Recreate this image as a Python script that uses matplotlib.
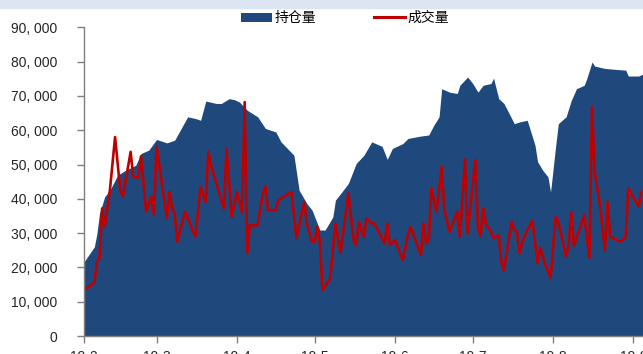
import pandas as pd
import matplotlib.pyplot as plt
import matplotlib.dates as mdates
from matplotlib.patches import Patch, Rectangle
from matplotlib.lines import Line2D
from matplotlib.ticker import FuncFormatter

# 持仓量 (open interest), 2019
oi_dates = ['02-01', '02-05', '02-06', '02-07', '02-09', '02-11', '02-14', '02-17',
            '02-21', '02-23', '02-26', '03-01', '03-05', '03-08', '03-13', '03-16',
            '03-18', '03-20', '03-24', '03-26', '03-29', '03-31', '04-02', '04-05',
            '04-09', '04-12', '04-16', '04-18', '04-23', '04-25', '04-28', '04-30',
            '05-03', '05-05', '05-08', '05-09', '05-12', '05-14', '05-15', '05-17',
            '05-20', '05-23', '05-27', '05-29', '05-31', '06-04', '06-06', '06-11',
            '06-14', '06-16', '06-18', '06-19', '06-22', '06-25', '06-26', '06-29',
            '07-01', '07-03', '07-05', '07-08', '07-09', '07-11', '07-13', '07-15',
            '07-17', '07-19', '07-22', '07-25', '07-26', '07-28', '07-30', '07-31',
            '08-02', '08-03', '08-06', '08-08', '08-10', '08-13', '08-14', '08-16',
            '08-17', '08-21', '08-24', '08-29', '08-30', '09-03', '09-05']
oi_values = [21600, 26000, 29900, 35800, 40600, 42500, 46900, 48300,
             49800, 53200, 54200, 57300, 56300, 57100, 63900, 63400,
             62900, 68500, 67800, 67800, 69200, 68900, 68200, 65800,
             63900, 60500, 59500, 56600, 52700, 42500, 38600, 36700,
             30900, 30900, 34700, 39600, 42500, 44500, 46400, 50300,
             52700, 56600, 55300, 51500, 54700, 56100, 57600, 58300,
             58600, 61500, 63900, 72100, 71100, 70700, 73100, 75500,
             73600, 71100, 73100, 73600, 75200, 69200, 67800, 64900,
             61900, 62400, 62900, 55600, 50800, 48300, 46400, 42000,
             55600, 61900, 63900, 68700, 72100, 73100, 75100, 79900,
             78700, 78000, 77800, 77500, 75800, 75800, 76500]

# 成交量 (volume), 2019
vol_dates = ['02-01', '02-05', '02-06', '02-07', '02-08', '02-09', '02-11', '02-13',
             '02-15', '02-16', '02-19', '02-20', '02-22', '02-23', '02-25', '02-27',
             '02-28', '03-01', '03-05', '03-06', '03-07', '03-08', '03-09', '03-12',
             '03-16', '03-18', '03-20', '03-21', '03-22', '03-27', '03-28', '03-30',
             '04-01', '04-03', '04-04', '04-05', '04-06', '04-09', '04-11', '04-12',
             '04-13', '04-16', '04-17', '04-22', '04-24', '04-25', '04-27', '04-28',
             '04-30', '05-01', '05-02', '05-03', '05-04', '05-07', '05-09', '05-11',
             '05-14', '05-16', '05-17', '05-18', '05-20', '05-21', '05-23', '05-24',
             '05-28', '05-29', '05-30', '06-01', '06-04', '06-06', '06-07', '06-11',
             '06-12', '06-13', '06-14', '06-15', '06-17', '06-19', '06-20', '06-22',
             '06-25', '06-26', '06-28', '06-29', '07-02', '07-03', '07-04', '07-05',
             '07-06', '07-08', '07-09', '07-11', '07-12', '07-13', '07-16', '07-17',
             '07-18', '07-19', '07-20', '07-22', '07-24', '07-26', '07-27', '07-29',
             '07-31', '08-02', '08-03', '08-06', '08-07', '08-08', '08-09', '08-13',
             '08-15', '08-16', '08-17', '08-19', '08-21', '08-22', '08-23', '08-27',
             '08-29', '08-30', '09-03', '09-04']
vol_values = [13400, 15500, 21600, 22600, 37200, 31800, 42500, 58000,
              42500, 40600, 53700, 46400, 46200, 52400, 36200, 40600,
              35500, 55300, 34300, 42000, 37200, 35700, 27500, 36200,
              28900, 43500, 39100, 53700, 49800, 37200, 54700, 34700,
              42000, 35900, 68200, 24100, 32300, 32300, 41600, 43500,
              36700, 36700, 39600, 42000, 28500, 32300, 39100, 32800,
              27500, 27500, 31800, 27500, 13400, 16800, 32800, 24300,
              41600, 28000, 26500, 33300, 28900, 34300, 32800, 32800,
              27000, 32800, 26500, 28000, 22100, 29400, 31800, 23600,
              32800, 27000, 28000, 43000, 36200, 49300, 37200, 30400,
              36200, 28900, 51500, 29900, 51300, 31400, 29100, 37200,
              32800, 30400, 28600, 29400, 21600, 19200, 33300, 30900,
              30600, 24100, 27000, 30900, 33500, 21200, 25700, 20700,
              17000, 34700, 33300, 23100, 26500, 36200, 26300, 35200,
              22800, 66800, 47900, 38600, 25000, 39100, 28900, 27500,
              28900, 43000, 37700, 42000]

blue = '#1F497D'
red = '#C00000'

oi_x = pd.to_datetime(['2019-' + d for d in oi_dates])
vol_x = pd.to_datetime(['2019-' + d for d in vol_dates])

plt.rcParams['font.family'] = ['Liberation Sans', 'Noto Sans CJK SC', 'DejaVu Sans']

fig = plt.figure(figsize=(6.43, 3.54), dpi=100)
# light strip along the top edge
fig.patches.append(Rectangle((0, 0.978), 1, 0.022, transform=fig.transFigure,
                             color='#DCE6F2', zorder=0))
ax = fig.add_axes([0.1306, 0.0508, 0.8694, 0.8721])

ax.fill_between(oi_x, oi_values, 0, color=blue, lw=0, zorder=1)
ax.plot(vol_x, vol_values, color=red, lw=1.9, zorder=2)

ax.set_xlim(pd.Timestamp('2019-02-01'), pd.Timestamp('2019-09-04 16:00'))
ax.set_ylim(0, 90000)
ax.set_yticks(range(0, 90001, 10000))
ax.yaxis.set_major_formatter(FuncFormatter(lambda v, p: f"{int(v):,}".replace(',', ', ')))
ax.xaxis.set_major_locator(mdates.MonthLocator())
ax.xaxis.set_major_formatter(FuncFormatter(
    lambda v, p: f"{mdates.num2date(v).year % 100}-{mdates.num2date(v).month}"))

for s in ['top', 'right']:
    ax.spines[s].set_visible(False)
for s in ['left', 'bottom']:
    ax.spines[s].set_color('#7F7F7F')
    ax.spines[s].set_linewidth(1.0)
ax.tick_params(axis='y', length=5, width=1, color='#7F7F7F', pad=14,
               labelsize=10, labelcolor='#262626')
ax.tick_params(axis='x', length=5, width=1, color='#7F7F7F', pad=5,
               labelsize=10, labelcolor='#262626')

handles = [Patch(facecolor=blue, edgecolor='none'),
           Line2D([], [], color=red, lw=2.2)]
fig.legend(handles, ['持仓量', '成交量'], loc='center', ncol=2,
           bbox_to_anchor=(0.537, 0.949), frameon=False,
           prop={'family': ['Noto Sans CJK SC'], 'size': 10},
           handlelength=2.2, handleheight=0.6, handletextpad=0.2,
           columnspacing=4.2)

fig.savefig('out.png', dpi=100)
